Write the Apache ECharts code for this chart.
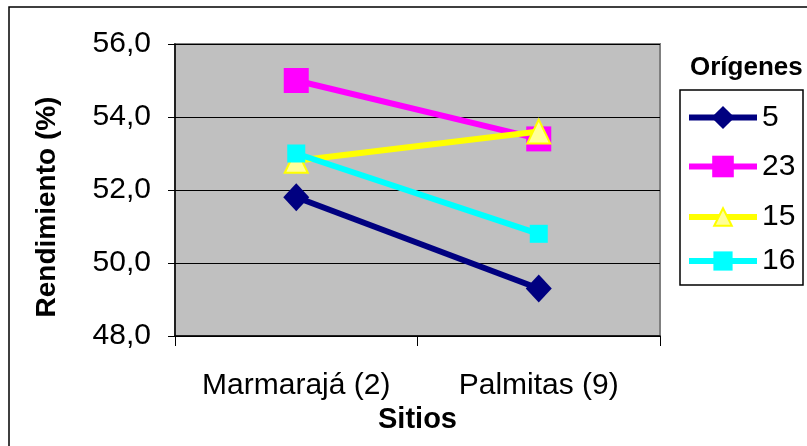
<!DOCTYPE html>
<html><head><meta charset="utf-8">
<script src="https://cdn.jsdelivr.net/npm/echarts@6/dist/echarts.min.js"></script>
<style>html,body{margin:0;padding:0;background:#fff}#c{width:807px;height:446px}</style>
</head><body><div id="c"></div>
<script>
const categories = ['Marmarajá (2)', 'Palmitas (9)'];
const seriesNames = ['5', '23', '15', '16'];
const s5 = [51.8, 49.3];
const s23 = [55.0, 53.4];
const s15 = [52.8, 53.6];
const s16 = [53.0, 50.8];
const yTicks = [48, 50, 52, 54, 56];

const F = 'Liberation Sans, Arial, sans-serif';
const styles = [
  {color:'#000080', symbol:'diamond', size:[26,28], border:'#000080', fill:'#000080', legendH:29, legendY:117},
  {color:'#FF00FF', symbol:'rect', size:[25,25], border:'#FF00FF', fill:'#FF00FF', legendH:27, legendY:165},
  {color:'#FFFF00', symbol:'triangle', size:[23,24], border:'#FFFF00', fill:'#FFFF99', legendH:22, legendY:213},
  {color:'#00FFFF', symbol:'rect', size:[18,18], border:'#00FFFF', fill:'#00FFFF', legendH:24, legendY:258}
];
const values = [s5, s23, s15, s16];

const chart = echarts.init(document.getElementById('c'), null, {renderer:'canvas'});
chart.setOption({
  animation:false,
  backgroundColor:'#fff',
  title:{text:'Orígenes', left:685, top:50, textStyle:{fontFamily:F, fontSize:26, fontWeight:'bold', color:'#000'}},
  legend: seriesNames.map((n,i)=>({
    orient:'vertical', left:686, top:styles[i].legendY - styles[i].legendH/2,
    padding:0, itemWidth:68, itemHeight:styles[i].legendH, itemGap:0,
    lineStyle:{width:6},
    textStyle:{fontFamily:F, fontSize:30, color:'#000', lineHeight:20},
    data:[n]
  })),
  grid:{left:175, top:44, right:147, bottom:110, show:true, backgroundColor:'#C0C0C0', borderColor:'#808080', borderWidth:2},
  xAxis:{
    type:'category', data:categories, boundaryGap:true,
    axisLine:{lineStyle:{color:'#000', width:1.5}},
    axisTick:{show:true, length:10, interval:0, lineStyle:{color:'#000'}},
    axisLabel:{fontFamily:F, fontSize:30, color:'#000', margin:35, interval:0, hideOverlap:false},
    name:'Sitios', nameLocation:'middle', nameGap:66,
    nameTextStyle:{fontFamily:F, fontSize:29, fontWeight:'bold', color:'#000'}
  },
  yAxis:{
    type:'value', min:yTicks[0], max:yTicks[yTicks.length-1], interval:2,
    axisLine:{show:true, lineStyle:{color:'#000', width:1.5}},
    axisTick:{show:true, length:7, lineStyle:{color:'#000'}},
    axisLabel:{fontFamily:F, fontSize:30, color:'#000', margin:24, formatter:v=>v.toFixed(1).replace('.', ',')},
    splitLine:{show:true, lineStyle:{color:'#000', width:1}}
  },
  graphic:[
    {type:'rect', shape:{x:9, y:7, width:900, height:600}, style:{fill:'none', stroke:'#000', lineWidth:1.5}, silent:true, z:100},
    {type:'rect', shape:{x:680, y:90, width:123, height:195}, style:{fill:'none', stroke:'#000', lineWidth:1.5}, silent:true, z:100},
    {type:'text', x:47, y:207, rotation:Math.PI/2, silent:true, z:100,
     style:{text:'Rendimiento (%)', font:'bold 28px ' + F, fill:'#000', textAlign:'center', textVerticalAlign:'middle'}}
  ],
  series: seriesNames.map((n,i)=>({
    name:n, type:'line', data:values[i],
    symbol:styles[i].symbol, symbolSize:styles[i].size,
    lineStyle:{color:styles[i].color, width:6},
    itemStyle:{color:styles[i].fill, borderColor:styles[i].border, borderWidth: i===2?2:0},
    z: 2+i
  }))
});
</script></body></html>
